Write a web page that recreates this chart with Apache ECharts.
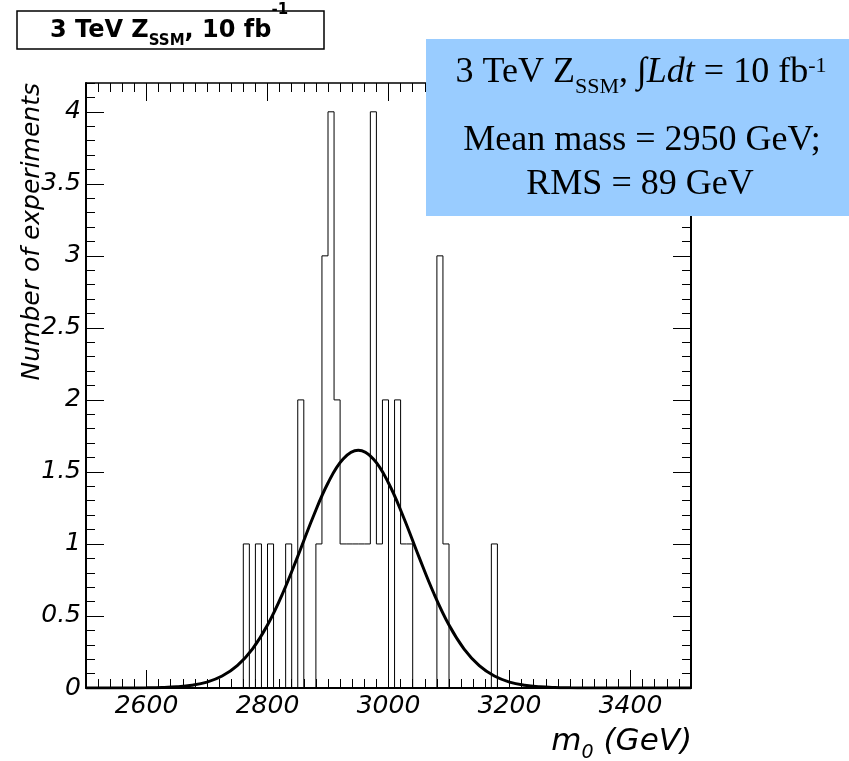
<!DOCTYPE html>
<html><head><meta charset="utf-8">
<script src="https://cdn.jsdelivr.net/npm/echarts@6/dist/echarts.min.js"></script>
<style>html,body{margin:0;padding:0;background:#fff;} #c{width:849px;height:761px;}</style>
</head><body><div id="c"></div>
<script>
// ---- data ----
const histMin = 2500;
const histMax = 3500;
const binWidth = 10;
const binLowEdges = [2760, 2780, 2800, 2830, 2850, 2880, 2890, 2900, 2910, 2920, 2930, 2940, 2950, 2960, 2970, 2980, 2990, 3010, 3020, 3030, 3080, 3090, 3170];
const binCounts   = [1,    1,    1,    1,    2,    1,    3,    4,    2,    1,    1,    1,    1,    1,    4,    1,    2,    2,    1,    1,    3,    1,    1];
const fitX = [2500,2525,2550,2575,2600,2625,2650,2675,2700,2725,2750,2775,2800,2825,2850,2875,2900,2925,2950,2975,3000,3025,3050,3075,3100,3125,3150,3175,3200,3225,3250,3275,3300,3325,3350,3375,3400,3425,3450,3475,3500];
const fitY = [0,0,0.0001,0.0004,0.0012,0.0032,0.008,0.019,0.041,0.083,0.155,0.270,0.437,0.656,0.914,1.184,1.423,1.590,1.65,1.590,1.423,1.184,0.914,0.656,0.437,0.270,0.155,0.083,0.041,0.019,0.008,0.0032,0.0012,0.0004,0.0001,0,0,0,0,0,0];
const xTickLabels = [2600, 2800, 3000, 3200, 3400];
const yTickLabels = [0, 0.5, 1, 1.5, 2, 2.5, 3, 3.5, 4];

// ---- build histogram outline (step) ----
const countByEdge = {};
binLowEdges.forEach((e, i) => { countByEdge[e] = binCounts[i]; });
const histPts = [];
for (let e = histMin; e < histMax; e += binWidth) histPts.push([e, countByEdge[e] || 0]);
histPts.push([histMax, 0]);
const fitPts = fitX.map((x, i) => [x, fitY[i]]);

const tickFont = {fontSize: 25, fontStyle: 'italic', fontFamily: 'DejaVu Sans', color: '#000', formatter: v => String(v)};
const black = {color: '#000', width: 1};
function xAx(pos, major, showLabel, lineW) {
  const a = {type: 'value', position: pos, min: histMin, max: histMax, splitLine: {show: false},
    axisLine: {show: !major, onZero: false, lineStyle: {color: '#000', width: lineW}},
    axisTick: {show: true, inside: true, length: major ? 18 : 9, lineStyle: black},
    axisLabel: {show: false}};
  if (major) a.axisTick.customValues = xTickLabels; else a.interval = 20;
  if (showLabel) a.axisLabel = Object.assign({show: true, customValues: xTickLabels, margin: 6}, tickFont);
  return a;
}
function yAx(pos, major, showLabel, lineW) {
  const a = {type: 'value', position: pos, min: 0, max: 4.2, splitLine: {show: false},
    axisLine: {show: !major, onZero: false, lineStyle: {color: '#000', width: lineW}},
    axisTick: {show: true, inside: true, length: major ? 18 : 9, lineStyle: black},
    axisLabel: {show: false}};
  if (major) a.axisTick.customValues = yTickLabels; else a.interval = 0.1;
  if (showLabel) a.axisLabel = Object.assign({show: true, customValues: yTickLabels, margin: 5}, tickFont);
  return a;
}

const chart = echarts.init(document.getElementById('c'), null, {renderer: 'canvas'});
chart.setOption({
  animation: false,
  backgroundColor: '#fff',
  grid: {left: 86, right: 158, top: 83, bottom: 73, containLabel: false, outerBoundsMode: 'none'},
  xAxis: [xAx('bottom', false, true, 2), xAx('bottom', true, false, 2), xAx('top', false, false, 1.5), xAx('top', true, false, 1.5)],
  yAxis: [yAx('left', false, true, 2), yAx('left', true, false, 2), yAx('right', false, false, 2), yAx('right', true, false, 2)],
  series: [
    {type: 'line', step: 'end', data: histPts, xAxisIndex: 0, yAxisIndex: 0, symbol: 'none',
     lineStyle: {color: '#000', width: 1}, z: 3},
    {type: 'line', smooth: 0.4, data: fitPts, xAxisIndex: 0, yAxisIndex: 0, symbol: 'none',
     lineStyle: {color: '#000', width: 3}, z: 4}
  ],
  graphic: [
    {type: 'rect', shape: {x: 17, y: 11, width: 307, height: 38}, style: {fill: '#fff', stroke: '#000', lineWidth: 1.5}, z: 100},
    {type: 'text', x: 169, y: 30.5, z: 101, style: {
      text: '3 TeV Z{sub|SSM}, 10 fb{sup|-1}', fontSize: 24, fontWeight: 'bold', fontFamily: 'DejaVu Sans', fill: '#000',
      align: 'center', verticalAlign: 'middle', textAlign: 'center', textVerticalAlign: 'middle', lineHeight: 60,
      rich: {
        sub: {fontSize: 15, fontWeight: 'bold', fontFamily: 'DejaVu Sans', verticalAlign: 'bottom', padding: [0, 0, 12, 0]},
        sup: {fontSize: 15, fontWeight: 'bold', fontFamily: 'DejaVu Sans', verticalAlign: 'top', padding: [2, 0, 0, 0]}
      }}},
    {type: 'rect', shape: {x: 426, y: 39, width: 430, height: 177}, style: {fill: '#99ccff'}, z: 100},
    {type: 'text', x: 641, y: 73, z: 101, style: {
      text: '3 TeV Z{sub|SSM}, ∫{it|Ldt} = 10 fb{sup|-1}', fontSize: 36, fontFamily: 'Liberation Serif', fill: '#000',
      align: 'center', verticalAlign: 'middle', textAlign: 'center', textVerticalAlign: 'middle', lineHeight: 50,
      rich: {
        sub: {fontSize: 22, fontFamily: 'Liberation Serif', verticalAlign: 'bottom', padding: [0, 0, 0, 0]},
        it: {fontSize: 36, fontStyle: 'italic', fontFamily: 'Liberation Serif'},
        sup: {fontSize: 22, fontFamily: 'Liberation Serif', verticalAlign: 'top', padding: [7, 0, 0, 0]}
      }}},
    {type: 'text', x: 642, y: 141, z: 101, style: {text: 'Mean mass = 2950 GeV;', fontSize: 36, fontFamily: 'Liberation Serif', fill: '#000',
      align: 'center', verticalAlign: 'middle', textAlign: 'center', textVerticalAlign: 'middle'}},
    {type: 'text', x: 640, y: 185, z: 101, style: {text: 'RMS = 89 GeV', fontSize: 36, fontFamily: 'Liberation Serif', fill: '#000',
      align: 'center', verticalAlign: 'middle', textAlign: 'center', textVerticalAlign: 'middle'}},
    {type: 'text', x: 32, y: 83, rotation: Math.PI / 2, z: 50, style: {text: 'Number of experiments', fontSize: 25, fontStyle: 'italic',
      fontFamily: 'DejaVu Sans', fill: '#000', align: 'right', verticalAlign: 'middle', textAlign: 'right', textVerticalAlign: 'middle'}},
    {type: 'text', x: 692, y: 741.7, z: 50, style: {text: 'm{sub|0} (GeV)', fontSize: 31, fontStyle: 'italic', fontFamily: 'DejaVu Sans',
      fill: '#000', align: 'right', verticalAlign: 'middle', textAlign: 'right', textVerticalAlign: 'middle', lineHeight: 50,
      rich: {sub: {fontSize: 19, fontStyle: 'italic', fontFamily: 'DejaVu Sans', verticalAlign: 'bottom', padding: [0, 0, 4, 0]}}}}
  ]
});
</script>
</body></html>
